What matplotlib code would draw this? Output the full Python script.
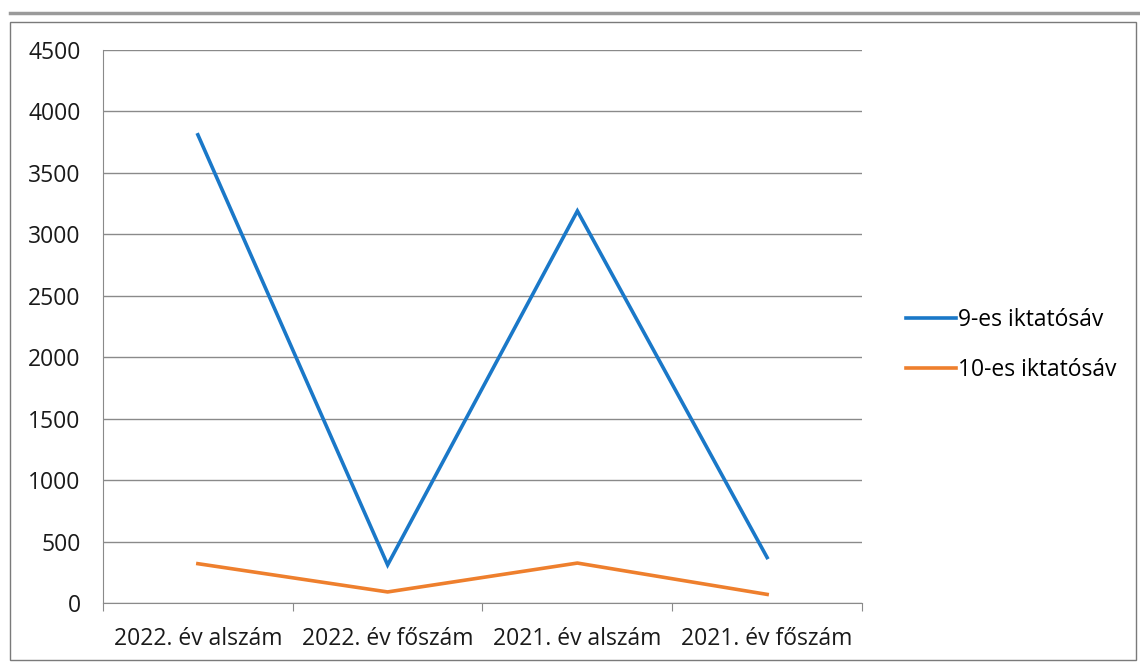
import matplotlib
matplotlib.use("Agg")
import matplotlib.pyplot as plt
from matplotlib.lines import Line2D
from matplotlib.patches import Rectangle

categories = ["2022. év alszám", "2022. év főszám", "2021. év alszám", "2021. év főszám"]
series_names = ["9-es iktatósáv", "10-es iktatósáv"]
values_9 = [3810, 310, 3190, 370]
values_10 = [320, 90, 325, 70]
yticks = [0, 500, 1000, 1500, 2000, 2500, 3000, 3500, 4000, 4500]

plt.rcParams['font.family'] = ['Open Sans', 'DejaVu Sans']

W, H = 1140, 667
fig = plt.figure(figsize=(W / 100, H / 100), dpi=100)
fig.patch.set_facecolor("white")

# decorative frame
fig.add_artist(Line2D([10 / W, 1.0], [1 - 13 / H, 1 - 13 / H], color="#9a9a9a", lw=2.5))
fig.add_artist(Rectangle((10 / W, 1 - 660 / H), (1136 - 10) / W, (660 - 22) / H,
                         fill=False, edgecolor="#7a7a7a", lw=1.0))

left, right, top, bottom = 103, 862, 50, 603
ax = fig.add_axes([left / W, 1 - bottom / H, (right - left) / W, (bottom - top) / H])

x = list(range(len(categories)))
ax.plot(x, values_9, color="#1a78c8", lw=2.6, label=series_names[0], solid_joinstyle="miter")
ax.plot(x, values_10, color="#ee7f2d", lw=2.6, label=series_names[1])

fs = 16.5
ax.set_xlim(-0.5, len(categories) - 0.5)
ax.set_ylim(0, 4500)
ax.set_yticks(yticks)
ax.set_yticklabels([str(v) for v in yticks], fontsize=fs, color="#1a1a1a")
ax.yaxis.grid(True, color="#8a8a8a", lw=1.0)
ax.set_axisbelow(True)
ax.tick_params(axis="y", length=0, pad=16)

ax.set_xticks([i - 0.5 for i in range(len(categories) + 1)])
ax.set_xticklabels([])
ax.set_xticks(x, minor=True)
ax.set_xticklabels(categories, minor=True, fontsize=fs, color="#1a1a1a")
ax.tick_params(axis="x", which="major", length=6, color="#8a8a8a", direction="out")
ax.tick_params(axis="x", which="minor", length=0, pad=17)

for s in ["top", "right"]:
    ax.spines[s].set_visible(False)
ax.spines["left"].set_color("#8a8a8a")
ax.spines["bottom"].set_color("#8a8a8a")

ax.legend(loc="center left", bbox_to_anchor=(885 / W, 1 - 345 / H), bbox_transform=fig.transFigure,
          frameon=False, fontsize=fs, handlelength=2.2, handletextpad=0.1, labelspacing=1.15)

fig.savefig("out.png", dpi=100, facecolor="white")
